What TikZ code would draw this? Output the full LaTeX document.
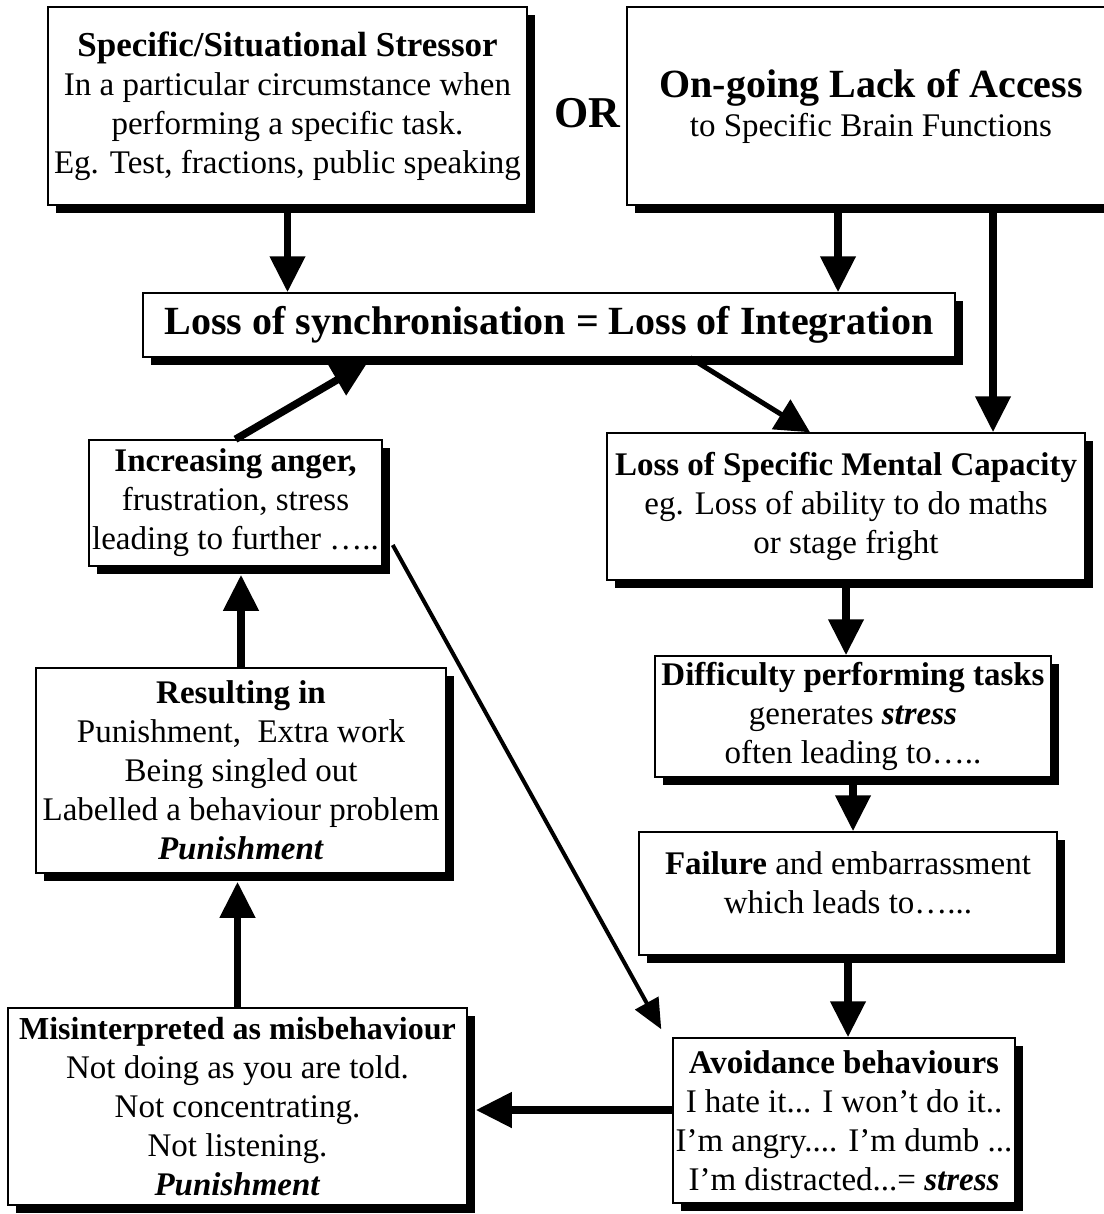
\documentclass[tikz,border=0pt]{standalone}
\usepackage{fontspec}
\setmainfont{Liberation Serif}
\usetikzlibrary{arrows.meta,shadows}
\begin{document}
\begin{tikzpicture}[x=0.5pt,y=-0.5pt,
  shbox/.style={draw,line width=0.75pt,fill=white,inner sep=0pt,align=center,
    font=\fontsize{16.5}{19.5}\selectfont,
    drop shadow={shadow xshift=4pt,shadow yshift=-4pt,opacity=1,fill=black}},
  fat/.style={line width=3.75pt,-{Triangle[length=18pt,width=17pt]}},
  mid/.style={line width=2.5pt,-{Triangle[length=17pt,width=17pt]}},
  lean/.style={line width=2pt,-{Triangle[length=15pt,width=13pt]}}]

\useasboundingbox (0,0) rectangle (1103,1214);

\node[shbox,minimum width=239.5pt,minimum height=99pt](stress) at (287.5,106) {{\bfseries\fontsize{17.5}{19.5}\selectfont Specific/Situational Stressor}\\In a particular circumstance when\\performing a specific task.\\Eg. Test, fractions, public speaking};
\node[font=\fontsize{22}{22}\selectfont\bfseries](or) at (587,113) {OR};
\node[shbox,minimum width=244pt,minimum height=99pt](access) at (871,106) {{\bfseries\fontsize{20}{24}\selectfont On-going Lack of Access}\\to Specific Brain Functions};

\node[shbox,minimum width=406pt,minimum height=32pt](lsync) at (549,325) {\bfseries\fontsize{20}{24}\selectfont Loss of synchronisation = Loss of Integration};

\node[shbox,minimum width=239pt,minimum height=73.5pt](lsmc) at (846,506.5) {{\bfseries Loss of Specific Mental Capacity}\\eg. Loss of ability to do maths\\or stage fright};
\node[shbox,minimum width=198pt,minimum height=60.5pt](diff) at (853,716.5) {{\bfseries Difficulty performing tasks}\\generates \textbf{\textit{stress}}\\often leading to\ldots..};
\node[shbox,minimum width=209pt,minimum height=61.5pt](fail) at (848,893.5) {\textbf{Failure} and embarrassment\\which leads to\ldots...\\[-9pt]\mbox{}};
\node[shbox,minimum width=171pt,minimum height=82.5pt](avoid) at (844,1120.5) {{\bfseries Avoidance behaviours}\\I hate it... I won’t do it..\\I’m angry.... I’m dumb ...\\I’m distracted...= \textbf{\textit{stress}}};

\node[shbox,minimum width=229.5pt,minimum height=98.5pt](misint) at (237.5,1106.5) {{\bfseries\fontsize{16}{19.5}\selectfont Misinterpreted as misbehaviour}\\Not doing as you are told.\\Not concentrating.\\Not listening.\\\textbf{\textit{Punishment}}};
\node[shbox,minimum width=205pt,minimum height=102.5pt](result) at (241,770.5) {{\bfseries Resulting in}\\Punishment,\ \ Extra work\\Being singled out\\Labelled a behaviour problem\\\textbf{\textit{Punishment}}};
\node[shbox,minimum width=146.5pt,minimum height=63pt](anger) at (235.5,503) {{\bfseries Increasing anger,}\\frustration, stress\\leading to further \ldots..};

% top row down to the middle
\draw[fat] (stress) -- (stress |- lsync.north);
\draw[fat] (access.south -| 838,0) -- (lsync.north -| 838,0);
\draw[fat] (access.south -| 993,0) -- (lsmc.north -| 993,0);
\draw[mid] (lsync.south -| 690,0) -- (lsmc.north -| 810,0);

% right hand column
\draw[fat] (lsmc.south) -- (lsmc.south |- diff.north);
\draw[fat] (diff.south) -- (diff.south |- fail.north);
\draw[fat] (fail.south) -- (fail.south |- avoid.north);

% back round the left
\draw[fat,shorten >=4pt] (avoid.west |- 0,1110) -- (misint.east |- 0,1110);
\draw[fat,shorten >=4pt] (misint.north) -- (misint.north |- result.south);
\draw[fat,shorten >=4pt] (result.north) -- (result.north |- anger.south);
\draw[fat,shorten >=4pt] (anger.north) -- (lsync.south -| 375,0);
\draw[lean] ([shift={(10,42)}]anger.east) -- ([shift={(-11,-8)}]avoid.north west);

\end{tikzpicture}
\end{document}
